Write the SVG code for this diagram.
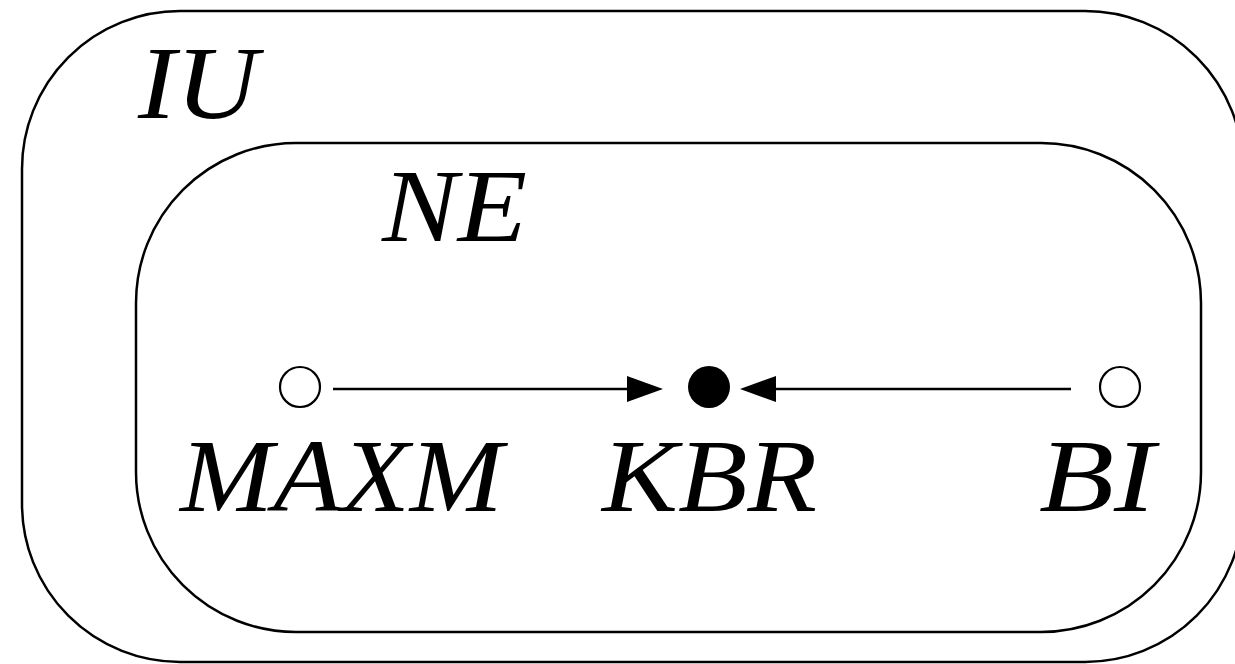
<svg xmlns="http://www.w3.org/2000/svg" width="1235" height="664" viewBox="0 0 1235 664">
  <style>
    .frame { fill: none; stroke: #000; stroke-width: 2.5; }
    .edge { fill: none; stroke: #000; stroke-width: 2.4; }
    .open { fill: #fff; stroke: #000; stroke-width: 2.2; }
    .solid { fill: #000; stroke: none; }
    .lbl { font-family: "Liberation Serif", "DejaVu Serif", serif; font-style: italic; font-size: 103px; fill: #000; }
  </style>
  <defs>
    <marker id="arrow" viewBox="0 0 36 26" markerWidth="36" markerHeight="26" refX="0" refY="13" markerUnits="userSpaceOnUse" orient="auto">
      <path d="M0,0 L36,13 L0,26 Z" fill="#000"/>
    </marker>
  </defs>
  <rect width="1235" height="664" fill="#fff"/>

  <!-- outer region IU -->
  <g id="IU">
    <rect class="frame" x="22" y="11" width="1221" height="651" rx="158" ry="158"/>
    <text class="lbl" x="138" y="118" textLength="120" lengthAdjust="spacingAndGlyphs">IU</text>
  </g>

  <!-- inner region NE -->
  <g id="NE">
    <rect class="frame" x="136" y="143" width="1065" height="489" rx="160" ry="160"/>
    <text class="lbl" x="382" y="241" textLength="145" lengthAdjust="spacingAndGlyphs">NE</text>
  </g>

  <!-- connectors -->
  <g id="connectors">
    <line class="edge" x1="333" y1="389" x2="627" y2="389" marker-end="url(#arrow)"/>
    <line class="edge" x1="1071" y1="389" x2="776" y2="389" marker-end="url(#arrow)"/>
  </g>

  <g id="MAXM">
    <circle class="open" cx="300" cy="387" r="20"/>
    <text class="lbl" x="180" y="511" textLength="323" lengthAdjust="spacingAndGlyphs">MAXM</text>
  </g>

  <g id="KBR">
    <circle class="solid" cx="709" cy="387" r="21"/>
    <text class="lbl" x="602" y="511" textLength="215" lengthAdjust="spacingAndGlyphs">KBR</text>
  </g>

  <g id="BI">
    <circle class="open" cx="1120" cy="387" r="20"/>
    <text class="lbl" x="1039" y="511" textLength="116" lengthAdjust="spacingAndGlyphs">BI</text>
  </g>
</svg>
